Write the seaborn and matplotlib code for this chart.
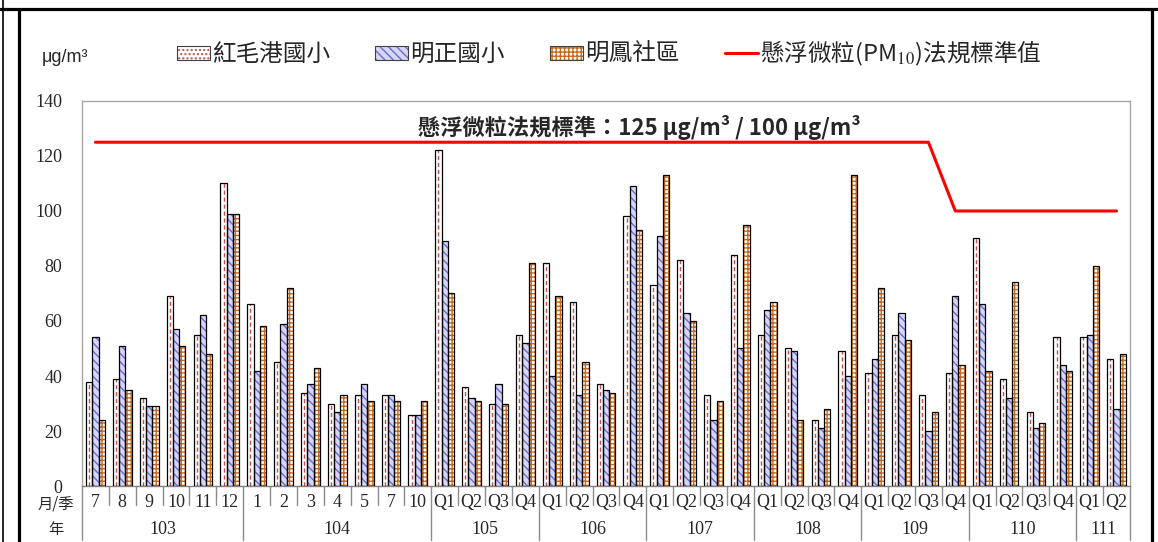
import numpy as np
import pandas as pd
import matplotlib
matplotlib.use('Agg')
from matplotlib import pyplot as plt
from matplotlib.patches import Rectangle, Patch
from matplotlib.lines import Line2D
from matplotlib.legend_handler import HandlerTuple
import matplotlib.transforms as mtransforms
import seaborn as sns

# data
years = ['103', '104', '105', '106', '107', '108', '109', '110', '111']
periods = [
    ['7', '8', '9', '10', '11', '12'],
    ['1', '2', '3', '4', '5', '7', '10'],
    ['Q1', 'Q2', 'Q3', 'Q4'],
    ['Q1', 'Q2', 'Q3', 'Q4'],
    ['Q1', 'Q2', 'Q3', 'Q4'],
    ['Q1', 'Q2', 'Q3', 'Q4'],
    ['Q1', 'Q2', 'Q3', 'Q4'],
    ['Q1', 'Q2', 'Q3', 'Q4'],
    ['Q1', 'Q2'],
]
sites = ['紅毛港國小', '明正國小', '明鳳社區']
hongmaogang = [38, 39, 32, 69, 55, 110,
               66, 45, 34, 30, 33, 33, 26,
               122, 36, 30, 55,
               81, 67, 37, 98,
               73, 82, 33, 84,
               55, 50, 24, 49,
               41, 55, 33, 41,
               90, 39, 27, 54,
               54, 46]
mingzheng = [54, 51, 29, 57, 62, 99,
             42, 59, 37, 27, 37, 33, 26,
             89, 32, 37, 52,
             40, 33, 35, 109,
             91, 63, 24, 50,
             64, 49, 21, 40,
             46, 63, 20, 69,
             66, 32, 21, 44,
             55, 28]
mingfeng = [24, 35, 29, 51, 48, 99,
            58, 72, 43, 33, 31, 31, 31,
            70, 31, 30, 81,
            69, 45, 34, 93,
            113, 60, 31, 95,
            67, 24, 28, 113,
            72, 53, 27, 44,
            42, 74, 23, 42,
            80, 48]
standard = [125, 125, 125, 125, 125, 125,
            125, 125, 125, 125, 125, 125, 125,
            125, 125, 125, 125,
            125, 125, 125, 125,
            125, 125, 125, 125,
            125, 125, 125, 125,
            125, 125, 125, 100,
            100, 100, 100, 100,
            100, 100]

CJK = ['Noto Sans CJK TC', 'DejaVu Sans']
SERIF = ['Liberation Serif', 'DejaVu Serif']

sns.set_style('white')
plt.rcParams['font.family'] = CJK
plt.rcParams['mathtext.fontset'] = 'stix'
plt.rcParams['hatch.linewidth'] = 1.0

keys = [f'{y}-{p}' for y, ps in zip(years, periods) for p in ps]
labels = [p for ps in periods for p in ps]
n = len(keys)
df = pd.DataFrame({
    'key': keys * 3,
    'site': np.repeat(sites, n),
    'value': hongmaogang + mingzheng + mingfeng,
})

fig = plt.figure(figsize=(11.58, 5.42), dpi=100)
ax = fig.add_axes([0.0708, 0.1033, 0.905, 0.7104])

face = ['white', '#d6d6f8', 'white']
hatch_col = ['#c0504d', '#6a6ad8', '#c46a1e']
hatches = [None, '\\\\\\\\', '++++']
sns.barplot(data=df, x='key', y='value', hue='site', order=keys, hue_order=sites,
            palette=face, width=0.7, gap=0, saturation=1, errorbar=None,
            legend=False, ax=ax)

for cont, hc, h in zip(ax.containers, hatch_col, hatches):
    for p in cont.patches:
        p.set_edgecolor(hc)
        p.set_linewidth(0)
        if h:
            p.set_hatch(h)
        x0, y0 = p.get_xy()
        w, hgt = p.get_width(), p.get_height()
        if h is None:
            ax.plot([x0 + w / 2, x0 + w / 2], [y0, y0 + hgt], color=hc,
                    lw=1.0, ls=(0, (3, 2)), zorder=3)
        ax.add_patch(Rectangle((x0, y0), w, hgt, fill=False,
                               edgecolor='black', lw=0.9, zorder=4))

# regulatory standard line
ax.plot(np.arange(n), standard, color='red', lw=2.2, zorder=5)

ax.set_xlim(-0.5, n - 0.5)
ax.set_ylim(0, 140)
ax.set_yticks(range(0, 141, 20))
ax.set_yticklabels([str(v) for v in range(0, 141, 20)], family=SERIF, fontsize=13)
ax.tick_params(axis='y', length=0, pad=14)
ax.set_xticks([])
ax.set_xlabel('')
ax.set_ylabel('')
for s in ax.spines.values():
    s.set_color('#a6a6a6')
    s.set_linewidth(1)
ax.spines['bottom'].set_color('#808080')

trans = mtransforms.blended_transform_factory(ax.transData, ax.transAxes)
starts = np.cumsum([0] + [len(ps) for ps in periods])
for i in range(n + 1):
    bottom = -0.14 if i in starts else -0.05
    ax.plot([i - 0.5, i - 0.5], [0, bottom], transform=trans, color='#8c8c8c',
            lw=1, clip_on=False)
for i, lab in enumerate(labels):
    ax.text(i, -0.042, lab, transform=trans, ha='center', va='center',
            family=SERIF, fontsize=13)
for y, a, b in zip(years, starts[:-1], starts[1:]):
    ax.text((a + b - 1) / 2, -0.114, y, transform=trans, ha='center', va='center',
            family=SERIF, fontsize=13)
ax.text(-0.025, -0.047, '月/季', transform=ax.transAxes, ha='center', va='center',
        fontsize=11)
ax.text(-0.025, -0.114, '年', transform=ax.transAxes, ha='center', va='center',
        fontsize=11)

ax.text(0.532, 0.93, '懸浮微粒法規標準：125 μg/m³ / 100 μg/m³', transform=ax.transAxes,
        ha='center', va='center', fontsize=16, fontweight='bold')

# legend
handles = []
for fc, hc, h in zip(face, hatch_col, ['....', '\\\\\\\\', '++++']):
    handles.append((Patch(facecolor=fc, edgecolor=hc, hatch=h, lw=0),
                    Patch(facecolor='none', edgecolor='#404040', lw=0.8)))
handles.append(Line2D([], [], color='red', lw=2.2))
leg_labels = sites + ['懸浮微粒(PM$_{10}$)法規標準值']
fig.legend(handles, leg_labels, loc='center', bbox_to_anchor=(0.526, 0.902), ncol=4,
           frameon=False, fontsize=17, handlelength=1.4, handleheight=0.55,
           handletextpad=0.1, columnspacing=1.9,
           handler_map={tuple: HandlerTuple(ndivide=1, pad=0)})
fig.text(0.036, 0.893, 'μg/m³', family=['Liberation Sans', 'DejaVu Sans'], fontsize=13,
         ha='left', va='center')

# outer frame lines
fig.add_artist(Line2D([0, 1], [0.9825, 0.9825], color='black', lw=2.3))
fig.add_artist(Line2D([0.0022, 0.0022], [0, 1], color='black', lw=1.2))
fig.add_artist(Line2D([0.0164, 0.0164], [0, 0.9825], color='black', lw=2.3))
fig.add_artist(Line2D([0.9948, 0.9948], [0, 0.9825], color='black', lw=2.3))

fig.savefig('out.png', dpi=100)
